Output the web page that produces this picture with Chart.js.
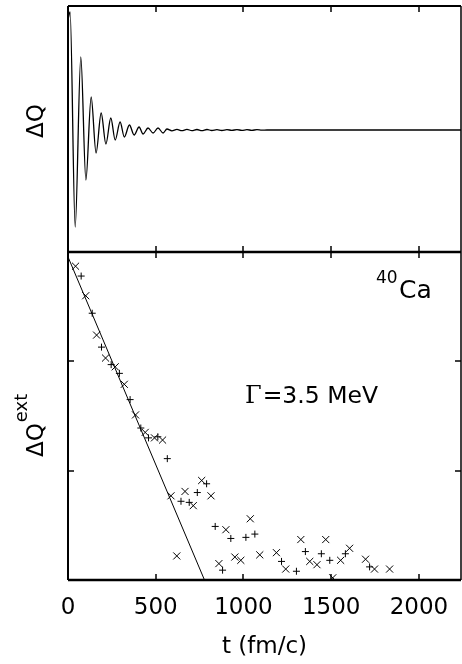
<!DOCTYPE html>
<html>
<head>
<meta charset="utf-8">
<script src="https://cdn.jsdelivr.net/npm/chart.js@4.4.0/dist/chart.umd.min.js"></script>
<style>
  html, body { margin: 0; padding: 0; background: #fff; }
  #wrap { position: relative; width: 462px; height: 664px; }
</style>
</head>
<body>
<div id="wrap"><canvas id="chart" width="462" height="664"></canvas></div>
<script>
// top panel: damped oscillation of the quadrupole moment (read at its extrema)
const oscT = [2, 12, 41, 73, 102, 132, 160, 189, 216, 244, 269, 297, 321, 350, 377, 405, 428, 456, 485, 513, 542, 564,
  592, 621, 649, 678, 706, 735, 763, 792, 820, 849, 877, 906, 934, 963, 991, 1020, 1048, 1077, 1105, 1134, 2240];
const oscV = [112, 118, -97, 73, -50, 33, -23, 17, -14, 12, -10, 8, -7, 5, -5, 3, -4, 2, -3, 2, -3, 1,
  -0.8, 0.6, -0.7, 0.6, -0.6, 0.5, -0.6, 0.5, -0.5, 0.4, -0.5, 0.4, -0.4, 0.4, -0.4, 0.3, -0.3, 0.3, -0.2, 0, 0];

// bottom panel: extracted amplitude (log scale, in decades)
const crossT = [43, 101, 163, 214, 269, 321, 385, 440, 493, 539, 587, 620, 667, 714, 762, 815, 860, 900, 951, 985,
  1039, 1093, 1188, 1241, 1327, 1378, 1419, 1469, 1509, 1554, 1605, 1696, 1747, 1833];
const crossV = [2.87, 2.60, 2.24, 2.03, 1.95, 1.79, 1.51, 1.35, 1.30, 1.28, 0.77, 0.22, 0.81, 0.68, 0.91, 0.77, 0.15, 0.46, 0.21, 0.18,
  0.56, 0.23, 0.25, 0.10, 0.37, 0.17, 0.14, 0.37, 0.02, 0.18, 0.29, 0.19, 0.10, 0.10];
const plusT = [75, 138, 191, 246, 293, 354, 415, 459, 512, 566, 644, 691, 737, 790, 839, 881, 928, 1014, 1065,
  1217, 1302, 1353, 1444, 1492, 1581, 1719];
const plusV = [2.78, 2.44, 2.13, 1.97, 1.89, 1.65, 1.39, 1.30, 1.31, 1.11, 0.72, 0.71, 0.80, 0.88, 0.49, 0.09, 0.38, 0.39, 0.42,
  0.17, 0.08, 0.26, 0.24, 0.18, 0.24, 0.12];
// exponential fit, Gamma = 3.5 MeV
const fitT = [0, 778];
const fitV = [2.955, 0];

const xTicks = [0, 500, 1000, 1500, 2000];
const yTicksBottom = [1, 2];

const toXY = (xs, ys) => xs.map((x, i) => ({ x: x, y: ys[i] }));

Chart.defaults.font.family = "'DejaVu Sans', sans-serif";
Chart.defaults.color = '#000';

const framePlugin = {
  id: 'frame',
  afterDatasetsDraw(chart) {
    const ctx = chart.ctx;
    const a = chart.chartArea;
    const xs = chart.scales.x;
    const yb = chart.scales.yBot;
    const mid = chart.scales.yTop.bottom;
    const seg = (x1, y1, x2, y2, w) => {
      ctx.lineWidth = w;
      ctx.beginPath();
      ctx.moveTo(x1, y1);
      ctx.lineTo(x2, y2);
      ctx.stroke();
    };
    ctx.save();
    ctx.strokeStyle = '#000';
    seg(a.left, a.top, a.right, a.top, 2);
    seg(a.left, a.top, a.left, a.bottom, 2);
    seg(a.right, a.top, a.right, a.bottom, 1.5);
    seg(a.left, a.bottom, a.right, a.bottom, 2.5);
    seg(a.left, mid, a.right, mid, 2.5);
    xTicks.forEach(v => {
      if (v === 0) return;
      const px = Math.round(xs.getPixelForValue(v));
      seg(px, a.top, px, a.top + 6, 1.5);
      seg(px, mid - 6, px, mid + 6, 1.5);
      seg(px, a.bottom, px, a.bottom - 6, 1.5);
    });
    yTicksBottom.forEach(v => {
      const py = Math.round(yb.getPixelForValue(v));
      seg(a.left, py, a.left + 6, py, 1.5);
      seg(a.right, py, a.right - 6, py, 1.5);
    });

    // labels
    ctx.fillStyle = '#000';
    ctx.textAlign = 'left';
    ctx.textBaseline = 'alphabetic';
    ctx.save();
    ctx.translate(43, 138);
    ctx.rotate(-Math.PI / 2);
    ctx.font = "23px 'DejaVu Sans'";
    ctx.fillText('ΔQ', 0, 0);
    ctx.restore();

    ctx.save();
    ctx.translate(43, 457);
    ctx.rotate(-Math.PI / 2);
    ctx.font = "23px 'DejaVu Sans'";
    ctx.fillText('ΔQ', 0, 0);
    const w = ctx.measureText('ΔQ').width;
    ctx.font = "18px 'DejaVu Sans'";
    ctx.fillText('ext', w + 1, -16);
    ctx.restore();

    ctx.font = "17px 'DejaVu Sans'";
    ctx.fillText('40', 376, 283);
    ctx.font = "25px 'DejaVu Sans'";
    ctx.fillText('Ca', 399, 298);

    ctx.font = "24px 'DejaVu Serif'";
    ctx.fillText('Γ', 245, 403);
    const gw = ctx.measureText('Γ').width;
    ctx.font = "23.5px 'DejaVu Sans'";
    ctx.fillText('=3.5 MeV', 245 + gw + 1, 403);
    ctx.restore();
  }
};

const hiddenAxis = {
  type: 'linear',
  position: 'left',
  stack: 'panels',
  ticks: { display: false },
  grid: { display: false, drawTicks: false },
  border: { display: false }
};

new Chart(document.getElementById('chart'), {
  type: 'scatter',
  data: {
    datasets: [
      {
        type: 'line',
        data: toXY(oscT, oscV),
        yAxisID: 'yTop',
        borderColor: '#000',
        borderWidth: 1.3,
        pointRadius: 0,
        cubicInterpolationMode: 'monotone',
        fill: false
      },
      {
        type: 'line',
        data: toXY(fitT, fitV),
        yAxisID: 'yBot',
        borderColor: '#000',
        borderWidth: 1,
        pointRadius: 0,
        fill: false
      },
      {
        data: toXY(crossT, crossV),
        yAxisID: 'yBot',
        pointStyle: 'crossRot',
        pointRadius: 5,
        borderColor: '#000',
        backgroundColor: '#000',
        borderWidth: 1
      },
      {
        data: toXY(plusT, plusV),
        yAxisID: 'yBot',
        pointStyle: 'cross',
        pointRadius: 3.5,
        borderColor: '#000',
        backgroundColor: '#000',
        borderWidth: 1
      }
    ]
  },
  options: {
    responsive: false,
    animation: false,
    devicePixelRatio: 1,
    layout: { autoPadding: false, padding: { left: 68, right: 1, top: 6, bottom: 0 } },
    plugins: { legend: { display: false }, tooltip: { enabled: false } },
    scales: {
      x: {
        type: 'linear',
        min: 0,
        max: 2240,
        afterBuildTicks: s => { s.ticks = xTicks.map(v => ({ value: v })); },
        afterFit: s => { s.height = 84; s.paddingLeft = 0; s.paddingRight = 0; },
        grid: { display: false, drawTicks: false },
        border: { display: false },
        ticks: { color: '#000', font: { size: 23 }, padding: 14, maxRotation: 0, autoSkip: false, callback: v => String(v) },
        title: { display: true, text: 't (fm/c)', color: '#000', font: { size: 23 }, padding: { top: 0, bottom: 3 } }
      },
      yTop: Object.assign({}, hiddenAxis, { min: -122, max: 124, stackWeight: 246, weight: 1 }),
      yBot: Object.assign({}, hiddenAxis, { min: 0, max: 3, stackWeight: 328, weight: 0 })
    }
  },
  plugins: [framePlugin]
});
</script>
</body>
</html>
